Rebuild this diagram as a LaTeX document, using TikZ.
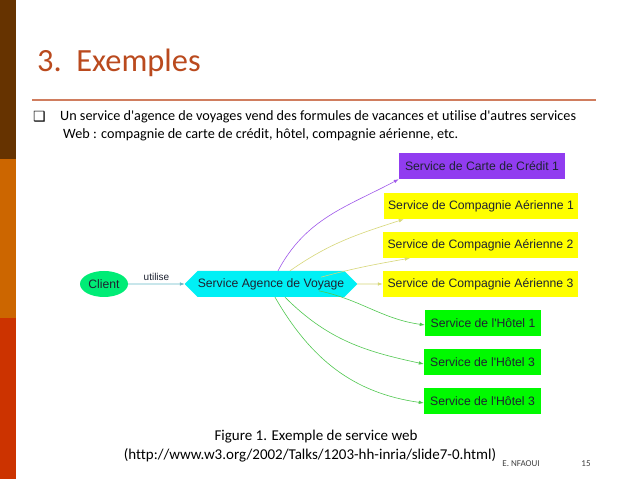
\documentclass[tikz,border=0pt]{standalone}
\usepackage{fontspec}
\setmainfont[Ligatures={TeX,NoCommon}]{Carlito}
\newfontfamily\diagfont{Liberation Sans}
\newfontfamily\symfont{DejaVu Sans}
\usetikzlibrary{arrows.meta,shapes.geometric,shapes.misc}
\definecolor{barbrown}{RGB}{102,51,0}
\definecolor{barorange}{RGB}{204,102,0}
\definecolor{barred}{RGB}{204,51,0}
\definecolor{titlecol}{RGB}{186,74,30}
\definecolor{rulecol}{RGB}{208,125,95}
\definecolor{cardcol}{RGB}{145,60,240}
\definecolor{airyellow}{RGB}{255,255,0}
\definecolor{hotelgreen}{RGB}{0,250,0}
\definecolor{clientcol}{RGB}{0,236,118}
\definecolor{agencecol}{RGB}{0,240,245}
\definecolor{cardedge}{RGB}{160,90,235}
\definecolor{airedge}{RGB}{215,215,120}
\definecolor{hoteledge}{RGB}{80,200,80}
\definecolor{clientedge}{RGB}{100,185,200}
\definecolor{boxtext}{RGB}{30,35,50}

\tikzset{
  svc/.style={rectangle,inner sep=0pt,minimum height=26pt,font=\diagfont\fontsize{12.2}{14}\selectfont,text=boxtext},
  tip/.style={-{Latex[length=5pt,width=3.5pt]}},
}

\begin{document}
\begin{tikzpicture}[x=1pt,y=1pt]
  \useasboundingbox (0,0) rectangle (638,479);
  \fill[white] (0,0) rectangle (638,479);
  % side bar
  \fill[barbrown] (0,320) rectangle (16,479);
  \fill[barorange] (0,161) rectangle (16,320);
  \fill[barred] (0,0) rectangle (16,161);
  % title and rule
  \node[anchor=base west,inner sep=0pt,text=titlecol,font=\fontsize{32.4}{36}\selectfont] (title) at (37,407) {3.\ \ Exemples};
  \draw[rulecol,line width=2pt] (32,379) -- (596,379);
  \node[anchor=base west,inner sep=0pt,font=\symfont\fontsize{14}{15}\selectfont] (bullet) at (33,357) {❑};
  \node[anchor=base west,inner sep=0pt,font=\fontsize{14.2}{16}\selectfont] (line1) at (60,358) {Un service d\textquotesingle agence de voyages vend des formules de vacances et utilise d\textquotesingle autres services};
  \node[anchor=base west,inner sep=0pt,font=\fontsize{14.2}{16}\selectfont] (line2) at (63,340) {Web : compagnie de carte de crédit, hôtel, compagnie aérienne, etc.};

  % diagram
  \node[ellipse,fill=clientcol,minimum width=48pt,minimum height=26pt,inner sep=0pt,font=\diagfont\fontsize{12.2}{14}\selectfont,text=boxtext] (client) at (104,195) {Client};
  \node[chamfered rectangle,chamfered rectangle xsep=7pt,chamfered rectangle ysep=7pt,fill=agencecol,minimum width=172pt,minimum height=26pt,inner sep=0pt,font=\diagfont\fontsize{12.2}{14}\selectfont,text=boxtext] (agence) at (271,195) {Service Agence de Voyage};
  \node[svc,fill=cardcol,minimum width=166pt] (card) at (482,313) {Service de Carte de Crédit 1};
  \node[svc,fill=airyellow,minimum width=194pt] (air1) at (481,273) {Service de Compagnie Aérienne 1};
  \node[svc,fill=airyellow,minimum width=195pt] (air2) at (480.5,234) {Service de Compagnie Aérienne 2};
  \node[svc,fill=airyellow,minimum width=195pt] (air3) at (480.5,195) {Service de Compagnie Aérienne 3};
  \node[svc,fill=hotelgreen,minimum width=116pt] (hotel1) at (483,156) {Service de l\textquotesingle Hôtel 1};
  \node[svc,fill=hotelgreen,minimum width=117pt] (hotel2) at (482.5,117) {Service de l\textquotesingle Hôtel 3};
  \node[svc,fill=hotelgreen,minimum width=117pt] (hotel3) at (482.5,78) {Service de l\textquotesingle Hôtel 3};

  \draw[tip,clientedge,line width=0.6pt] (client) -- node[above,text=boxtext,font=\diagfont\fontsize{10}{11}\selectfont] (uses) {utilise} (agence);
  \draw[tip,cardedge,line width=0.6pt] ([xshift=7pt]agence.north) to[out=62,in=208] (card.south west);
  \draw[tip,airedge,line width=0.6pt] ([xshift=19pt]agence.north) to[out=35,in=198] ([xshift=20pt]air1.south west);
  \draw[tip,airedge,line width=0.6pt] ([xshift=-30pt]agence.north east) to[out=15,in=190] ([xshift=27pt]air2.south west);
  \draw[tip,airedge,line width=0.6pt] (agence) -- (air3);
  \draw[tip,hoteledge,line width=0.6pt] ([xshift=-32pt]agence.south east) to[out=-12,in=172] ([yshift=-2pt]hotel1.west);
  \draw[tip,hoteledge,line width=0.6pt] ([xshift=14pt]agence.south) to[out=-45,in=168] ([yshift=-2pt]hotel2.west);
  \draw[tip,hoteledge,line width=0.6pt] ([xshift=4pt]agence.south) to[out=-60,in=172] ([yshift=-2pt]hotel3.west);

  % caption and footer
  \node[inner sep=0pt,font=\fontsize{15}{17}\selectfont] (caption) at (316,42) {Figure 1. Exemple de service web};
  \node[inner sep=0pt,font=\fontsize{15}{17}\selectfont] (source) at (310,24) {(http://www.w3.org/2002/Talks/1203-hh-inria/slide7-0.html)};
  \node[inner sep=0pt,text=black!75,font=\fontsize{9}{10}\selectfont] (author) at (521,15) {E. NFAOUI};
  \node[inner sep=0pt,text=black!75,font=\fontsize{9}{10}\selectfont] (page) at (586,15) {15};
\end{tikzpicture}
\end{document}
